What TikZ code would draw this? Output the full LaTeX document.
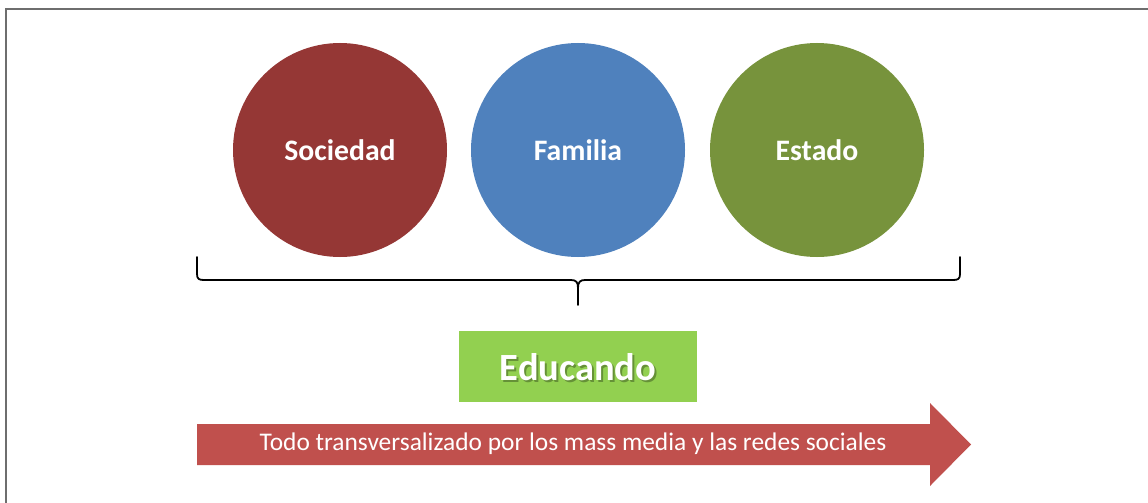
\documentclass[tikz,border=0pt]{standalone}
\usepackage{fontspec}
\setmainfont{Carlito}
\definecolor{cSoc}{HTML}{953735}
\definecolor{cFam}{HTML}{4F81BD}
\definecolor{cEst}{HTML}{77933C}
\definecolor{cEdu}{HTML}{92D050}
\definecolor{cArr}{HTML}{C0504D}
\definecolor{cFrame}{HTML}{6E6E6E}
\begin{document}
\begin{tikzpicture}[x=1pt,y=-1pt,
  ball/.style={circle,minimum size=214pt,inner sep=0pt,text=white,font=\bfseries\fontsize{29.7}{32}\selectfont},
  bracepath/.style={line width=1.8pt,black,line cap=round,line join=round}]
\useasboundingbox (0,0) rectangle (1148,503);
\fill[white] (0,0) rectangle (1148,503);
% frame (top and left only)
\draw[cFrame,line width=1.5pt] (6,503) -- (6,9) -- (1148,9);
% circles
\node[ball,fill=cSoc] (soc) at (340,150) {Sociedad};
\node[ball,fill=cFam] (fam) at (578,150) {Familia};
\node[ball,fill=cEst] (est) at (817,150) {Estado};
% brace
\coordinate (bl) at (197,257);
\coordinate (br) at (960,257);
\coordinate (bt) at (578,305);
\draw[bracepath] (bl) -- (197,274) .. controls (197,279) and (199,280) .. (204,280)
  -- (571,280) .. controls (576,280) and (578,282) .. (578,288) -- (bt);
\draw[bracepath] (br) -- (960,274) .. controls (960,279) and (958,280) .. (953,280)
  -- (585,280) .. controls (580,280) and (578,282) .. (578,288);
% Educando box
\fill[cEdu] (459,331) rectangle (697,402);
\node[text=black,opacity=0.3,font=\bfseries\fontsize{38.5}{42}\selectfont] (edushadow) at (580,369.5) {Educando};
\node[text=white,font=\bfseries\fontsize{38.5}{42}\selectfont] (edu) at (578,367.5) {Educando};
% arrow
\fill[cArr] (197,424) -- (930,424) -- (930,403) -- (971,444.5) -- (930,486) -- (930,465) -- (197,465) -- cycle;
\node[text=white,font=\fontsize{25.4}{28}\selectfont] (arrtxt) at (573,444) {Todo transversalizado por los mass media y las redes sociales};
\end{tikzpicture}
\end{document}
